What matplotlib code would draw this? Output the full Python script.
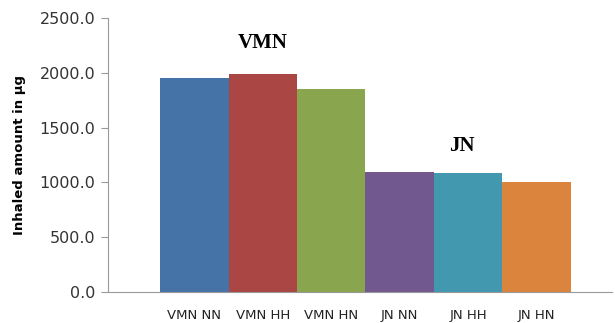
import matplotlib.pyplot as plt

groups = ["VMN NN", "VMN HH", "VMN HN", "JN NN", "JN HH", "JN HN"]
amounts = [1950.0, 1990.0, 1850.0, 1092.0, 1083.0, 1004.0]
colors = ["#4572A7", "#AA4643", "#89A54E", "#71588F", "#4198AF", "#DB843D"]

fig = plt.figure(figsize=(6.15, 3.23), dpi=100)
ax = fig.add_axes([0.1756, 0.096, 0.8195, 0.848])

x = range(len(groups))
ax.bar(x, amounts, width=1.0, color=colors)

ax.set_ylim(0, 2500)
ax.set_xlim(-1.26, 6.1)
ax.set_yticks([0, 500, 1000, 1500, 2000, 2500])
ax.set_yticklabels([f"{v:.1f}" for v in [0, 500, 1000, 1500, 2000, 2500]],
                   fontsize=11.5, color="#333333")
ax.set_xticks(list(x))
ax.set_xticklabels(groups, fontsize=9.5, color="#222222")
ax.tick_params(axis="x", length=0, pad=12)
ax.tick_params(axis="y", length=5, color="#999999", direction="out", pad=4)

for side in ["top", "right"]:
    ax.spines[side].set_visible(False)
for side in ["left", "bottom"]:
    ax.spines[side].set_color("#999999")

ax.set_ylabel("Inhaled amount in µg", fontsize=9.5, fontweight="bold", labelpad=10)

# group labels over the bars
ax.text(1.0, 2272, "VMN", ha="center", va="center", fontsize=15,
        fontweight="bold", family="Liberation Serif")
ax.text(3.9, 1332, "JN", ha="center", va="center", fontsize=15,
        fontweight="bold", family="Liberation Serif")

fig.savefig("out.png", dpi=100)
